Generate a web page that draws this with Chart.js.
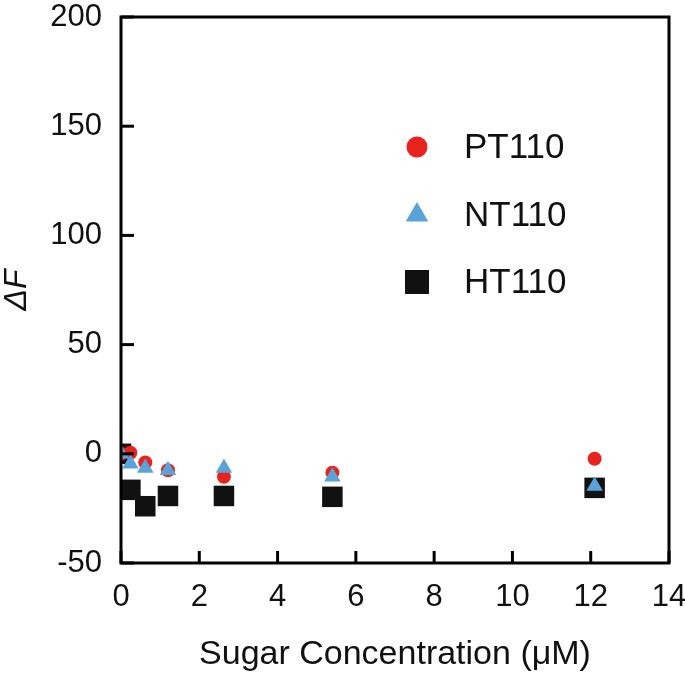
<!DOCTYPE html>
<html>
<head>
<meta charset="utf-8">
<script src="https://cdn.jsdelivr.net/npm/chart.js@4/dist/chart.umd.min.js"></script>
<style>
  html, body { margin: 0; padding: 0; background: #fff; }
  #wrap { width: 685px; height: 673px; }
</style>
</head>
<body>
<div id="wrap"><canvas id="grafico" width="685" height="673"></canvas></div>
<script>
// sugar concentration (µM) and ΔF
const conc = [0, 0.24, 0.62, 1.2, 2.63, 5.4, 12.1]
const pt110 = [0, 0.5, -4, -7.5, -10.5, -8.7, -2.3]
const nt110 = [0, -4.5, -6.5, -7.5, -6.5, -10.5, -14.7]
const ht110 = [0, -16.5, -24, -19.3, -19.3, -19.7, -15.6]
const xTicks = [0, 2, 4, 6, 8, 10, 12, 14]
const yTicks = [-50, 0, 50, 100, 150, 200]

const fontName = '"Liberation Sans", Arial, sans-serif'

function toPoints(xs, ys){
    return xs.map((x, i) => ({x: x, y: ys[i]}))
}

const datasets = [
    {label: 'PT110', data: toPoints(conc, pt110), pointStyle: 'circle', pointRadius: 7,
     backgroundColor: '#e8231d', borderColor: '#e8231d', borderWidth: 0, order: 2, legendRadius: 10.5},
    {label: 'NT110', data: toPoints(conc, nt110), pointStyle: 'triangle', pointRadius: 9.5,
     backgroundColor: '#5aa3da', borderColor: '#5aa3da', borderWidth: 0, order: 1, legendRadius: 13},
    {label: 'HT110', data: toPoints(conc, ht110), pointStyle: 'rect', pointRadius: 14.5,
     backgroundColor: '#111111', borderColor: '#111111', borderWidth: 0, order: 3, legendRadius: 17}
]

// frame and inward tick marks
const framePlugin = {
    id: 'frame',
    afterDraw(chart){
        const ctx = chart.ctx
        const a = chart.chartArea
        ctx.save()
        ctx.strokeStyle = '#000'
        ctx.lineWidth = 3
        ctx.strokeRect(a.left, a.top, a.right - a.left, a.bottom - a.top)
        const xs = chart.scales.x
        xTicks.forEach(v => {
            const px = xs.getPixelForValue(v)
            ctx.beginPath()
            ctx.moveTo(px, a.bottom)
            ctx.lineTo(px, a.bottom - 12)
            ctx.stroke()
        })
        const ys = chart.scales.y
        yTicks.forEach(v => {
            const py = ys.getPixelForValue(v)
            ctx.beginPath()
            ctx.moveTo(a.left, py)
            ctx.lineTo(a.left + 13, py)
            ctx.stroke()
        })
        ctx.restore()
    }
}

// legend inside the plot
const legendPlugin = {
    id: 'innerLegend',
    afterDraw(chart){
        const ctx = chart.ctx
        const rows = [147, 215, 282]
        ctx.save()
        chart.data.datasets.forEach((ds, i) => {
            const y = rows[i]
            ctx.fillStyle = ds.backgroundColor
            ctx.strokeStyle = ds.borderColor
            Chart.helpers.drawPoint(ctx, {
                pointStyle: ds.pointStyle,
                radius: ds.legendRadius,
                borderWidth: 0,
                rotation: 0
            }, 417, y)
            ctx.fillStyle = '#111'
            ctx.font = '35px ' + fontName
            ctx.textAlign = 'left'
            ctx.textBaseline = 'middle'
            ctx.fillText(ds.label, 464, y + 1)
        })
        ctx.restore()
    }
}

const chart = new Chart(document.getElementById('grafico'), {
    type: 'scatter',
    data: {datasets: datasets},
    options: {
        responsive: false,
        animation: false,
        layout: {padding: {top: 17, right: 16, left: 0, bottom: 0}},
        plugins: {legend: {display: false}, tooltip: {enabled: false}},
        scales: {
            x: {
                type: 'linear', min: 0, max: 14,
                afterFit(scale){
                    scale.height = 110
                    scale.paddingLeft = 0
                    scale.paddingRight = 0
                },
                afterBuildTicks(scale){ scale.ticks = xTicks.map(v => ({value: v})) },
                grid: {display: false, drawTicks: false},
                border: {display: false},
                ticks: {color: '#111', padding: 16, font: {size: 31, family: fontName}},
                title: {display: true, text: 'Sugar Concentration (μM)', color: '#111',
                        font: {size: 34, family: fontName, lineHeight: 1}, padding: {top: 0, bottom: 1}}
            },
            y: {
                type: 'linear', min: -50, max: 200,
                afterFit(scale){
                    scale.width = 121
                    scale.paddingTop = 0
                    scale.paddingBottom = 0
                },
                afterBuildTicks(scale){ scale.ticks = yTicks.map(v => ({value: v})) },
                grid: {display: false, drawTicks: false},
                border: {display: false},
                ticks: {color: '#111', padding: 19, font: {size: 31, family: fontName}},
                title: {display: true, text: 'ΔF', color: '#111',
                        font: {size: 32, family: fontName, style: 'italic', lineHeight: 1}, padding: {top: 1, bottom: 0}}
            }
        }
    },
    plugins: [framePlugin, legendPlugin]
})
</script>
</body>
</html>
